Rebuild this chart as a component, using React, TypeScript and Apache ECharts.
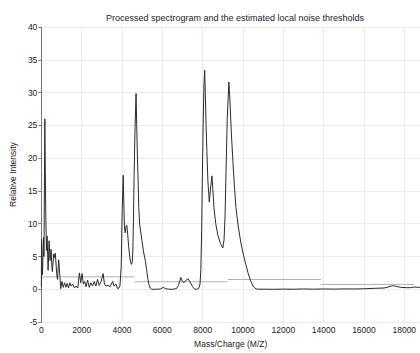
import React, { useEffect, useRef } from "react";
import * as echarts from "echarts";

const mz = [
  0, 10, 30, 57, 85, 106, 130, 150, 172, 195, 220, 253, 286, 335, 384, 433, 482, 520, 547, 613, 650, 694, 760, 800, 860, 920, 960,
  1021, 1087, 1152, 1217, 1283, 1348, 1413, 1479, 1560, 1642, 1724, 1806, 1887, 1953, 2018, 2083, 2149, 2214, 2296, 2377, 2459,
  2541, 2623, 2704, 2786, 2868, 2966, 3064, 3129, 3211, 3309, 3407, 3538, 3603, 3701, 3783, 3848, 3897, 3960, 4010, 4060,
  4090, 4120, 4160, 4200, 4240, 4280, 4330, 4390, 4430, 4470, 4510, 4540, 4570, 4600, 4648, 4697, 4730, 4765, 4795, 4830,
  4880, 4990, 5070, 5155, 5220, 5285, 5340, 5400, 5480, 5600, 5750, 5900, 6050, 6150, 6300, 6500, 6700, 6800, 6920, 7000,
  7070, 7180, 7280, 7400, 7500, 7600, 7700, 7800, 7870, 7910, 7950, 7985, 8030, 8065, 8100, 8130, 8170, 8210, 8260, 8330,
  8380, 8460, 8500, 8560, 8650, 8750, 8880, 9000, 9060, 9110, 9160, 9220, 9300, 9350, 9420, 9500, 9580, 9650, 9770, 9890,
  10010, 10140, 10260, 10380, 10500, 10600, 10700, 11000, 11500, 12000, 12500, 13000, 13500, 14000, 14500, 15000, 15500,
  16000, 16500, 17000, 17200, 17410, 17600, 17820, 18100, 18310, 18500, 18700, 18780,
];

const intensity = [
  0.3, 7.6, 4, 2.2, 6, 7.9, 5, 15, 26, 18, 11.3, 5.9, 8.1, 2.9, 7.4, 4.4, 6.1, 3.5, 2.7, 5.4, 4.8, 5.5, 2.4, 1.5, 4.5, 2, 0.1,
  1.2, 0.3, 1.0, 0.3, 0.9, 0.2, 1.0, 0.5, 0.8, 0.2, 0.5, 0.2, 2.5, 1.0, 2.4, 0.8, 1.2, 0.4, 1.4, 0.3, 1.0,
  0.5, 1.2, 0.5, 1.5, 0.6, 1.2, 2.4, 0.8, 0.5, 0.6, 0.4, 1.2, 0.5, 0.8, 0.1, 0.2, 0.5, 3.4, 12.3, 17.4,
  13, 9.5, 8.6, 9.6, 9.75, 8.5, 6.5, 4.8, 4.1, 3.8, 4.2, 6, 11, 17.3, 24.7, 29.85, 25, 20, 17, 12.5,
  9.8, 7.4, 5.7, 4.4, 3, 1.5, 0.7, 0.2, 0, 0, 0.02, 0.05, 0.3, 0.1, 0.02, 0, 0.1, 0.6, 1.8, 1.2,
  1.0, 1.4, 1.6, 1.0, 0.4, 0.05, 0, 0.1, 0.8, 3, 9, 17, 26, 31, 33.4, 30, 25, 21, 16.5, 13.3,
  15, 17.3, 15.5, 12.5, 10, 8.3, 7, 6.3, 7.5, 11, 18, 26, 31.6, 29, 24, 19.5, 15.5, 12.5, 9.5, 7.2,
  5.4, 3.8, 2.4, 1.3, 0.5, 0.15, 0.02, 0.02, 0, 0.03, 0.01, 0.05, 0.02, 0.05, 0.03, 0.06, 0.05,
  0.08, 0.15, 0.2, 0.35, 0.55, 0.45, 0.3, 0.25, 0.25, 0.35, 0.3, 0.3,
];

const thrStart = [0, 4620, 9240, 13860];
const thrEnd = [4620, 9240, 13860, 18480];
const thrLevel = [1.9, 1.15, 1.5, 0.75];

const titleText = "Processed spectrogram and the estimated local noise thresholds";
const xName = "Mass/Charge (M/Z)";
const yName = "Relative Intensity";

const FONT = "'Liberation Sans', Arial, sans-serif";

export default function App() {
  const ref = useRef<HTMLDivElement>(null);
  useEffect(() => {
    if (!ref.current) return;
    const chart = echarts.init(ref.current, undefined, { renderer: "svg" });
    const spectrum = mz.map((m, i) => [m, intensity[i]]);
    const thrSeries = thrStart.map((s, i) => ({
      type: "line",
      data: [
        [s, thrLevel[i]],
        [thrEnd[i], thrLevel[i]],
      ],
      showSymbol: false,
      silent: true,
      lineStyle: { color: "#b0b0b0", width: 1 },
      z: 2,
    }));
    chart.setOption({
      animation: false,
      title: {
        text: titleText,
        left: 230,
        top: 8,
        textAlign: "center",
        textStyle: { fontFamily: FONT, fontSize: 9, fontWeight: "normal", color: "#222" },
      },
      grid: { left: 36, right: 0, top: 27, bottom: 22, containLabel: false },
      xAxis: {
        type: "value",
        min: 0,
        max: 18780,
        interval: 2000,
        name: xName,
        nameLocation: "middle",
        nameGap: 14,
        nameTextStyle: { fontFamily: FONT, fontSize: 8.5, color: "#222" },
        axisLine: { show: false },
        axisTick: { show: false },
        axisLabel: {
          fontFamily: FONT,
          fontSize: 8.5,
          color: "#222",
          margin: 3,
          showMaxLabel: false,
          formatter: (v: number) => String(v),
        },
        splitLine: { show: true, lineStyle: { color: "#ebebeb", width: 1 } },
      },
      yAxis: {
        type: "value",
        min: -5,
        max: 40,
        interval: 5,
        name: yName,
        nameLocation: "middle",
        nameGap: 18,
        nameTextStyle: { fontFamily: FONT, fontSize: 8.5, color: "#222" },
        axisLine: { show: true, lineStyle: { color: "#777", width: 1 } },
        axisTick: { show: true, length: 3, lineStyle: { color: "#777" } },
        axisLabel: { fontFamily: FONT, fontSize: 8.5, color: "#222", margin: 4 },
        splitLine: { show: true, lineStyle: { color: "#ebebeb", width: 1 } },
      },
      series: [
        ...thrSeries,
        {
          type: "line",
          data: spectrum,
          showSymbol: false,
          silent: true,
          lineStyle: { color: "#2a2a2a", width: 1 },
          z: 3,
        },
      ],
    });
    return () => chart.dispose();
  }, []);
  return (
    <div
      ref={ref}
      style={{ position: "absolute", left: 0, top: 0, width: 420, height: 353, background: "#fff" }}
    />
  );
}
